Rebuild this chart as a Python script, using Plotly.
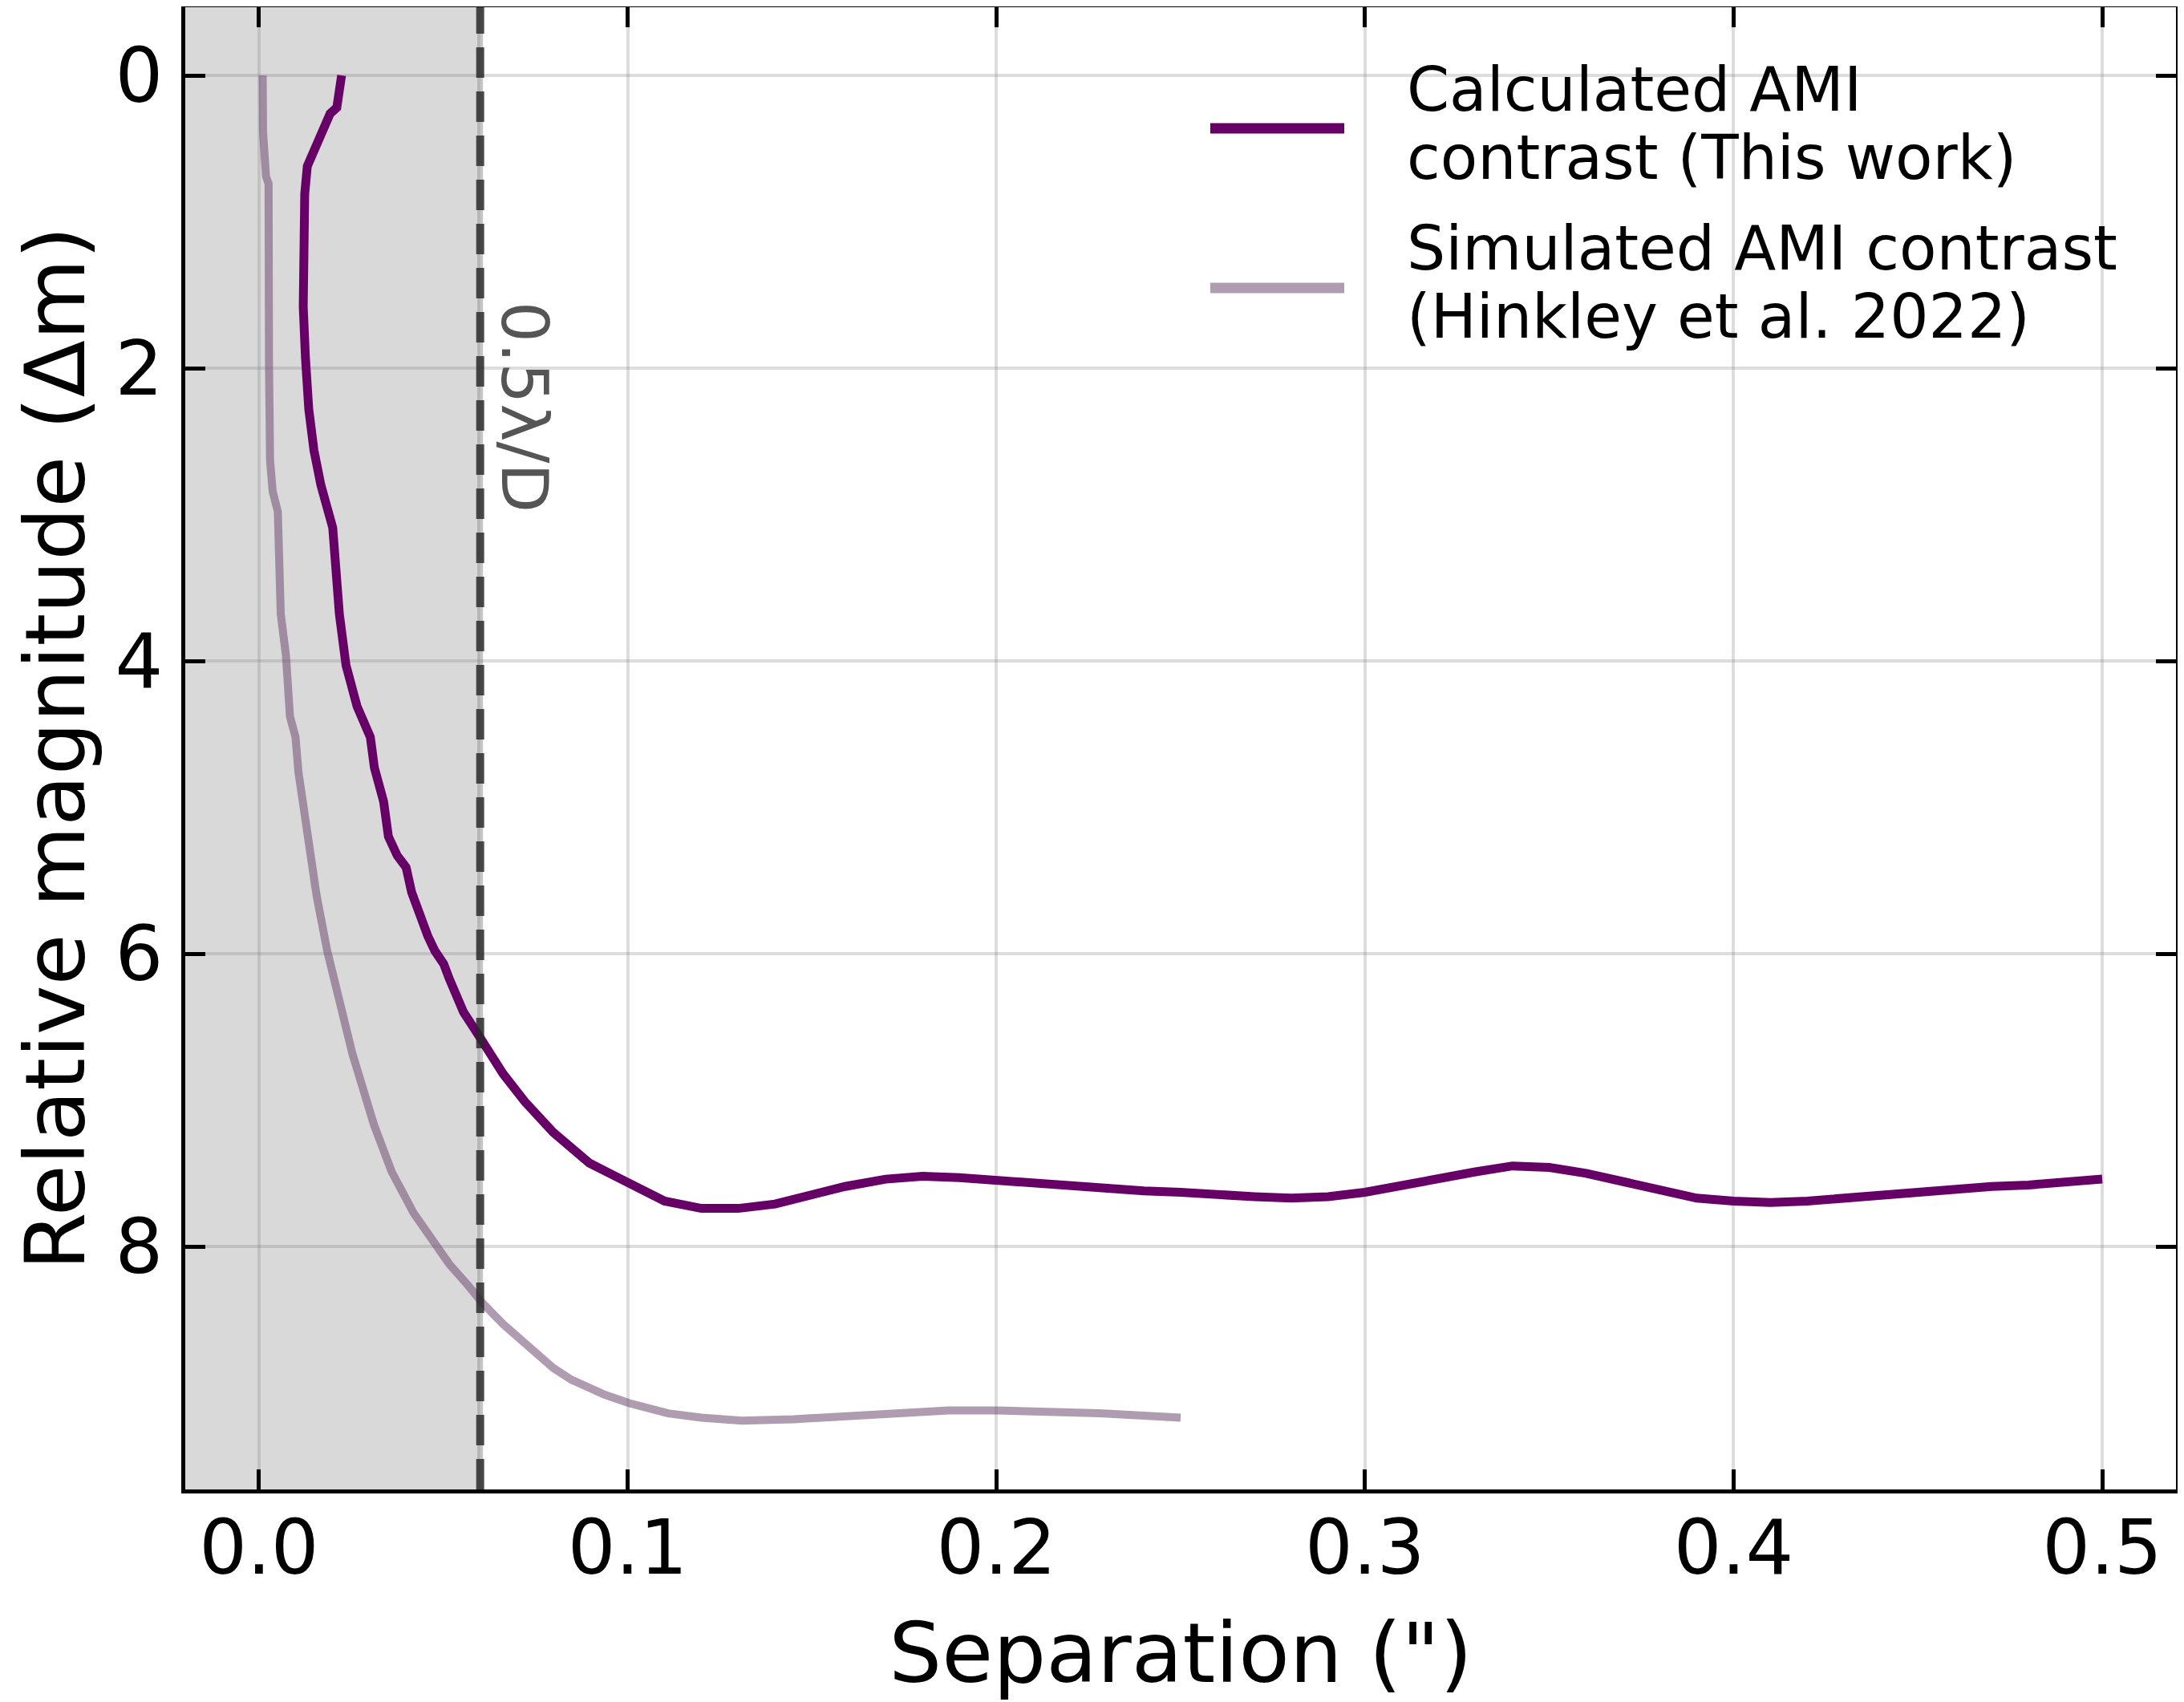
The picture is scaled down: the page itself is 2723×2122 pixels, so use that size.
import plotly.graph_objects as go

# separation (arcsec) / relative magnitude
calc_sep = [0.0224, 0.0211, 0.0193, 0.0171, 0.0153, 0.0131, 0.0124, 0.0120, 0.0120, 0.0126,
            0.0135, 0.0149, 0.0168, 0.0200, 0.0208, 0.0218, 0.0236, 0.0266, 0.0302, 0.0313,
            0.0338, 0.0351, 0.0375, 0.0399, 0.0414, 0.0438, 0.0458, 0.0477, 0.0501, 0.0516,
            0.0555, 0.0604, 0.0662, 0.0721, 0.0798, 0.0896, 0.1003, 0.110, 0.120, 0.130,
            0.140, 0.149, 0.159, 0.170, 0.180, 0.190, 0.200, 0.210, 0.220, 0.230,
            0.240, 0.250, 0.260, 0.270, 0.280, 0.290, 0.300, 0.310, 0.320, 0.330,
            0.340, 0.350, 0.360, 0.370, 0.380, 0.390, 0.400, 0.410, 0.420, 0.430,
            0.440, 0.450, 0.460, 0.470, 0.480, 0.490, 0.500]
calc_dm = [0.00, 0.22, 0.26, 0.38, 0.48, 0.62, 0.81, 1.23, 1.58, 1.93,
           2.28, 2.56, 2.80, 3.09, 3.33, 3.68, 4.03, 4.31, 4.52, 4.73,
           4.96, 5.20, 5.33, 5.41, 5.58, 5.77, 5.88, 5.98, 6.07, 6.17,
           6.40, 6.59, 6.82, 7.01, 7.22, 7.43, 7.57, 7.69, 7.74, 7.74,
           7.71, 7.65, 7.59, 7.54, 7.52, 7.53, 7.55, 7.57, 7.59, 7.60,
           7.62, 7.63, 7.65, 7.66, 7.67, 7.66, 7.63, 7.58, 7.53, 7.49,
           7.45, 7.46, 7.50, 7.56, 7.62, 7.67, 7.69, 7.70, 7.69, 7.67,
           7.64, 7.62, 7.60, 7.59, 7.58, 7.56, 7.54]

sim_sep = [0.0010, 0.0011, 0.0019, 0.0026, 0.0027, 0.0030, 0.0037, 0.0051, 0.0059, 0.0073,
           0.0084, 0.0099, 0.0107, 0.0127, 0.0146, 0.0156, 0.0185, 0.0214, 0.0253, 0.0312,
           0.0360, 0.0419, 0.0467, 0.0516, 0.0565, 0.0604, 0.0662, 0.0711, 0.0750, 0.0798,
           0.0847, 0.0935, 0.1003, 0.111, 0.120, 0.131, 0.145, 0.159, 0.173, 0.187,
           0.200, 0.215, 0.228, 0.250]
sim_dm = [0.00, 0.39, 0.69, 0.74, 1.93, 2.63, 2.84, 2.98, 3.68, 3.96,
          4.38, 4.52, 4.76, 5.11, 5.46, 5.60, 5.98, 6.30, 6.68, 7.17,
          7.49, 7.77, 7.94, 8.12, 8.26, 8.38, 8.53, 8.64, 8.74, 8.83,
          8.91, 9.01, 9.07, 9.14, 9.17, 9.19, 9.18, 9.16, 9.13, 9.12,
          9.12, 9.13, 9.14, 9.17]

half_lambda_d = 0.06
x_ticks = [0.0, 0.1, 0.2, 0.3, 0.4, 0.5]
y_ticks = [0, 2, 4, 6, 8]

legend_labels = [["Calculated AMI", "contrast (This work)"],
                 ["Simulated AMI contrast", "(Hinkley et al. 2022)"]]

# the page body has an 8px margin, so the figure sits 8px in from the top-left
OFF = 8
W, H = 2715, 2114
L, R, T, B = 231 - OFF, 10, 9 - OFF, 265
PW, PH = W - L - R, H - T - B

CALC = "#660066"
SIM = "rgba(119,84,119,0.58)"
FONT = "DejaVu Sans"


def px(x, y):
    # pixel position in the screenshot -> paper coords
    return (x - OFF - L) / PW, 1 - (y - OFF - T) / PH


fig = go.Figure()
fig.add_trace(go.Scatter(x=calc_sep, y=calc_dm, mode="lines",
                         line=dict(color=CALC, width=11), showlegend=False))
fig.add_trace(go.Scatter(x=sim_sep, y=sim_dm, mode="lines",
                         line=dict(color=SIM, width=10), showlegend=False))

# shaded region inside 0.5 lambda/D
fig.add_shape(type="rect", xref="x", yref="paper", x0=-0.05, x1=half_lambda_d, y0=0, y1=1,
              fillcolor="#d9d9d9", line_width=0, layer="below")
fig.add_shape(type="line", xref="x", yref="paper", x0=half_lambda_d, x1=half_lambda_d, y0=0, y1=1,
              line=dict(color="rgba(150,150,150,0.55)", width=7), layer="below")
fig.add_shape(type="line", xref="x", yref="paper", x0=half_lambda_d, x1=half_lambda_d, y0=0, y1=1,
              line=dict(color="rgba(40,40,40,0.82)", width=10, dash="38px,17px"), layer="above")
lx, ly = px(653, 507)
fig.add_annotation(x=lx, y=ly, xref="paper", yref="paper", xanchor="center", yanchor="middle",
                   text="0.5λ/D", textangle=90, showarrow=False,
                   font=dict(family=FONT, size=80, color="#555555"))

# hand-drawn legend, long swatches like the original
swatch_y = [160, 359]
text_y = [[111, 197], [309, 394]]
for i, col in enumerate([CALC, SIM]):
    x0, y0 = px(1509, swatch_y[i])
    x1, _ = px(1676, swatch_y[i])
    fig.add_shape(type="line", xref="paper", yref="paper", x0=x0, x1=x1, y0=y0, y1=y0,
                  line=dict(color=col, width=13))
    for j, txt in enumerate(legend_labels[i]):
        ax, ay = px(1752, text_y[i][j])
        fig.add_annotation(x=ax, y=ay, xref="paper", yref="paper", text=txt,
                           showarrow=False, xanchor="left", yanchor="middle",
                           font=dict(family=FONT, size=76, color="black"))

axis_common = dict(showline=True, linecolor="black", linewidth=5, mirror="ticks",
                   ticks="inside", ticklen=25, tickwidth=5, tickcolor="black",
                   showgrid=True, gridcolor="rgba(128,128,128,0.27)", gridwidth=4,
                   zeroline=False, tickfont=dict(family=FONT, size=94, color="black"))

fig.update_xaxes(range=[-0.0200, 0.52], tickvals=x_ticks, tickformat=".1f",
                 title=dict(text='Separation (")', font=dict(family=FONT, size=104, color="black"),
                            standoff=65),
                 ticklabelstandoff=-13, **axis_common)
fig.update_yaxes(range=[9.66, -0.466], tickvals=y_ticks,
                 title=dict(text="Relative magnitude (Δm)", font=dict(family=FONT, size=104, color="black"),
                            standoff=28),
                 ticklabelstandoff=4, **axis_common)

fig.update_layout(width=W, height=H, margin=dict(l=L, r=R, t=T, b=B, autoexpand=False),
                  plot_bgcolor="white", paper_bgcolor="white",
                  font=dict(family=FONT, color="black"))

fig.write_html("out.html")
